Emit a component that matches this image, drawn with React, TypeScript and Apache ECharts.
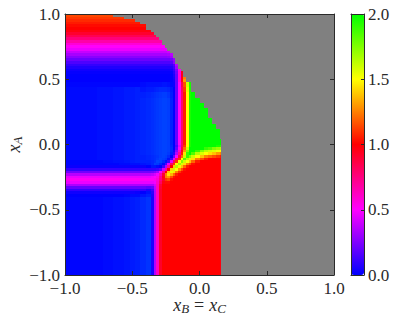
import React, { useEffect, useRef } from "react";
import * as echarts from "echarts";

const barTicks = ["0.0", "0.5", "1.0", "1.5", "2.0"];
const fieldColors = ["#00ffff", "#0000ff", "#ff00ff", "#ff0000", "#ffff00", "#00ff00"];
const barColors = ["#0000ff", "#ff00ff", "#ff0000", "#ffff00", "#00ff00"];

const xEdges = [-1, -0.96, -0.92, -0.88, -0.84, -0.8, -0.76, -0.72, -0.68, -0.64, -0.6, -0.56, -0.52, -0.48, -0.44, -0.4, -0.36, -0.34, -0.32, -0.3, -0.28, -0.26, -0.24, -0.22, -0.2, -0.18, -0.16, -0.14, -0.12, -0.1, -0.08, -0.06, -0.03, 0, 0.03, 0.06, 0.09, 0.12, 0.15, 0.162];
const yEdges = [1, 0.98, 0.96, 0.94, 0.92, 0.9, 0.88, 0.86, 0.84, 0.82, 0.8, 0.78, 0.76, 0.74, 0.72, 0.7, 0.68, 0.66, 0.64, 0.62, 0.6, 0.58, 0.56, 0.54, 0.52, 0.5, 0.48, 0.44, 0.4, 0.36, 0.32, 0.28, 0.24, 0.2, 0.16, 0.12, 0.08, 0.04, 0, -0.02, -0.04, -0.06, -0.08, -0.1, -0.12, -0.14, -0.16, -0.18, -0.2, -0.22, -0.24, -0.26, -0.28, -0.3, -0.32, -0.34, -0.36, -0.38, -0.4, -0.5, -0.6, -0.7, -0.8, -0.9, -1];

const uL = [-0.02, -0.02, -0.02, -0.02, -0.02, -0.02, -0.03, -0.03, -0.03, -0.04, -0.04, -0.05, -0.05, -0.06];
const mid = [-0.07, -0.08, -0.09, -0.1, -0.11, -0.12, -0.13, -0.13, -0.12, -0.06, 0, 0.2, 0.5, 0.78, 1.05, 1.5, 1.95];
const lowL = [-0.01, -0.01, -0.01, -0.01, -0.01, -0.01, -0.01, -0.02, -0.02, -0.03, -0.03, -0.04, -0.05, -0.06];
const lowMid = [-0.08, -0.1, 0.05, 0.35, 0.62, 0.92, 1];
const red10 = [1, 1, 1, 1, 1, 1, 1, 1, 1, 1];
const redR = [1, 1, 1, 1, 1, 1, 1, 0.97];

const rows: number[][] = [
  [1.14, 1.14, 1.14, 1.14, 1.14, 1.14, 1.14, 1.14, 1.14],
  [1.11, 1.11, 1.11, 1.11, 1.11, 1.11, 1.11, 1.11, 1.11, 1.11, 1.11],
  [1.08, 1.08, 1.08, 1.08, 1.08, 1.08, 1.08, 1.08, 1.08, 1.08, 1.08, 1.08, 1.08],
  [1.05, 1.05, 1.05, 1.05, 1.05, 1.05, 1.05, 1.05, 1.05, 1.05, 1.05, 1.05, 1.05, 1.05],
  [1.02, 1.02, 1.02, 1.02, 1.02, 1.02, 1.02, 1.02, 1.02, 1.02, 1.02, 1.02, 1.02, 1.02, 1.02],
  [1, 1, 1, 1, 1, 1, 1, 1, 1, 1, 1, 1, 1, 1, 1],
  [0.97, 0.97, 0.97, 0.97, 0.97, 0.97, 0.97, 0.97, 0.97, 0.97, 0.97, 0.97, 0.97, 0.97, 0.97, 0.97],
  [0.91, 0.91, 0.91, 0.91, 0.91, 0.91, 0.91, 0.91, 0.91, 0.91, 0.91, 0.91, 0.91, 0.91, 0.91, 0.91, 0.91],
  [0.84, 0.84, 0.84, 0.84, 0.84, 0.84, 0.84, 0.84, 0.84, 0.84, 0.84, 0.84, 0.84, 0.84, 0.84, 0.84, 0.84, 0.84],
  [0.76, 0.76, 0.76, 0.76, 0.76, 0.76, 0.76, 0.76, 0.76, 0.76, 0.76, 0.76, 0.76, 0.76, 0.76, 0.76, 0.76, 0.76, 0.76],
  [0.67, 0.67, 0.67, 0.67, 0.67, 0.67, 0.67, 0.67, 0.67, 0.67, 0.67, 0.67, 0.67, 0.67, 0.67, 0.67, 0.67, 0.67, 0.67, 0.67],
  [0.58, 0.58, 0.58, 0.58, 0.58, 0.58, 0.58, 0.58, 0.58, 0.58, 0.58, 0.58, 0.58, 0.58, 0.58, 0.58, 0.58, 0.58, 0.58, 0.58],
  [0.51, 0.51, 0.51, 0.51, 0.51, 0.51, 0.51, 0.51, 0.51, 0.51, 0.51, 0.51, 0.51, 0.51, 0.51, 0.51, 0.51, 0.51, 0.51, 0.51, 0.51],
  [0.46, 0.46, 0.46, 0.46, 0.46, 0.46, 0.46, 0.46, 0.46, 0.46, 0.46, 0.46, 0.46, 0.46, 0.46, 0.46, 0.46, 0.46, 0.46, 0.46, 0.46, 0.46],
  [0.39, 0.39, 0.39, 0.39, 0.39, 0.39, 0.39, 0.39, 0.39, 0.39, 0.39, 0.39, 0.39, 0.39, 0.39, 0.39, 0.39, 0.39, 0.39, 0.39, 0.39, 0.39, 0.41],
  [0.33, 0.33, 0.33, 0.33, 0.33, 0.33, 0.33, 0.33, 0.33, 0.33, 0.33, 0.33, 0.33, 0.33, 0.33, 0.33, 0.33, 0.33, 0.33, 0.33, 0.33, 0.33, 0.34, 0.37],
  [0.27, 0.27, 0.27, 0.27, 0.27, 0.27, 0.27, 0.27, 0.27, 0.27, 0.27, 0.27, 0.27, 0.27, 0.27, 0.27, 0.27, 0.27, 0.27, 0.27, 0.27, 0.27, 0.28, 0.32],
  [0.21, 0.21, 0.21, 0.21, 0.21, 0.21, 0.21, 0.21, 0.21, 0.21, 0.21, 0.21, 0.21, 0.21, 0.21, 0.21, 0.21, 0.21, 0.21, 0.21, 0.21, 0.21, 0.21, 0.23, 0.3],
  [0.15, 0.15, 0.15, 0.15, 0.15, 0.15, 0.15, 0.15, 0.15, 0.15, 0.15, 0.15, 0.15, 0.15, 0.15, 0.15, 0.15, 0.15, 0.15, 0.15, 0.15, 0.15, 0.15, 0.17, 0.28],
  [0.1, 0.1, 0.1, 0.1, 0.1, 0.1, 0.1, 0.1, 0.1, 0.1, 0.1, 0.1, 0.1, 0.1, 0.1, 0.1, 0.1, 0.1, 0.1, 0.1, 0.1, 0.1, 0.1, 0.11, 0.16, 0.38],
  [0.06, 0.06, 0.06, 0.06, 0.06, 0.06, 0.06, 0.06, 0.06, 0.06, 0.06, 0.06, 0.06, 0.06, 0.06, 0.06, 0.06, 0.06, 0.06, 0.06, 0.06, 0.06, 0.06, 0.07, 0.13, 0.33],
  [0.03, 0.03, 0.03, 0.03, 0.03, 0.03, 0.03, 0.03, 0.03, 0.03, 0.03, 0.03, 0.03, 0.03, 0.03, 0.03, 0.03, 0.03, 0.03, 0.03, 0.03, 0.03, 0.03, 0.04, 0.1, 0.25, 0.52],
  [0.01, 0.01, 0.01, 0.01, 0.01, 0.01, 0.01, 0.01, 0.01, 0.01, 0.01, 0.01, 0.01, 0.01, 0.01, 0.01, 0.01, 0.01, 0.01, 0.01, 0.01, 0.01, 0.01, 0.01, 0.07, 0.22, 0.55, 0.95],
  [0, 0, 0, 0, 0, 0, 0, 0, 0, 0, 0, 0, 0, 0, 0, 0, 0, 0, 0, 0, 0, 0, 0, 0, 0.05, 0.2, 0.55, 0.95],
  [0, 0, 0, 0, 0, 0, 0, 0, 0, 0, 0, 0, 0, 0, 0, 0, 0, 0, 0, 0, 0, 0, 0, 0, 0.04, 0.2, 0.55, 0.95, 1.25],
  [0, 0, 0, 0, 0, 0, 0, 0, 0, 0, 0, 0, 0, 0, 0, 0, 0, 0, 0, 0, 0, 0, 0, 0, 0.03, 0.2, 0.55, 0.95, 1.3],
  [-0.01, -0.01, -0.01, -0.01, -0.01, -0.01, -0.01, -0.01, -0.01, -0.01, -0.01, -0.01, -0.01, -0.01, -0.02, -0.03, -0.03, -0.03, -0.03, -0.03, -0.04, -0.04, -0.03, -0.01, 0.02, 0.2, 0.5, 0.85, 1.15, 1.6, 1.95],
  [...uL, -0.04, -0.05, -0.05, -0.06, -0.07, -0.08, -0.08, -0.08, -0.07, -0.04, 0, 0.2, 0.5, 0.8, 1.1, 1.55, 1.95],
  [...uL, -0.06, -0.07, -0.08, -0.09, -0.1, -0.11, -0.12, -0.12, -0.1, -0.05, 0, 0.2, 0.5, 0.78, 1.05, 1.5, 1.95, 2],
  [...uL, ...mid, 2, 2],
  [...uL, ...mid, 2, 2, 2],
  [...uL, ...mid, 2, 2, 2, 2],
  [...uL, ...mid, 2, 2, 2, 2],
  [...uL, ...mid, 2, 2, 2, 2, 2],
  [...uL, ...mid, 2, 2, 2, 2, 2, 2],
  [...uL, ...mid, 2, 2, 2, 2, 2, 2, 2],
  [...uL, ...mid, 2, 2, 2, 2, 2, 2, 2],
  [...uL, ...mid, 2, 2, 2, 2, 2, 2, 2, 2],
  [...uL, -0.07, -0.08, -0.09, -0.1, -0.11, -0.12, -0.13, -0.13, -0.12, -0.07, 0, 0.15, 0.45, 0.8, 1.1, 1.5, 1.95, 2, 2, 2, 2, 2, 2, 1.95, 1.9],
  [...uL, -0.07, -0.08, -0.09, -0.1, -0.11, -0.12, -0.13, -0.13, -0.12, -0.08, 0, 0.2, 0.5, 0.85, 1.2, 1.6, 2, 2, 2, 2, 1.9, 1.85, 1.75, 1.7, 1.65],
  [...uL, -0.07, -0.08, -0.09, -0.1, -0.11, -0.12, -0.13, -0.13, -0.12, -0.07, 0.03, 0.27, 0.6, 0.95, 1.3, 1.75, 2, 2, 1.9, 1.75, 1.65, 1.6, 1.57, 1.53, 1.5],
  [...uL, -0.07, -0.08, -0.09, -0.1, -0.11, -0.12, -0.13, -0.13, -0.11, -0.05, 0.07, 0.35, 0.7, 1.05, 1.45, 1.9, 2, 1.85, 1.65, 1.57, 1.5, 1.44, 1.38, 1.3, 1.25],
  [...uL, -0.06, -0.07, -0.08, -0.09, -0.1, -0.12, -0.13, -0.12, -0.08, 0, 0.2, 0.5, 0.85, 1.2, 1.6, 1.9, 1.75, 1.6, 1.5, 1.38, 1.25, 1.2, 1.15, 1.1, 1.05],
  [...uL, -0.06, -0.07, -0.08, -0.09, -0.11, -0.13, -0.12, -0.1, -0.03, 0.12, 0.45, 0.8, 1.1, 1.5, 1.85, 1.65, 1.57, 1.44, 1.25, 1.15, 1.05, 1, 1, 1, 0.98],
  [...lowL, -0.06, -0.06, -0.07, -0.09, -0.13, -0.12, -0.08, -0.03, 0.12, 0.45, 0.8, 1.1, 1.5, 1.75, 1.6, 1.5, 1.38, 1.2, 1.05, 1, 1, 1, 1, 1, 0.98],
  [-0.01, -0.01, -0.01, -0.01, -0.01, -0.01, -0.01, -0.01, -0.01, -0.01, -0.02, -0.02, -0.03, -0.03, -0.04, -0.05, -0.07, -0.12, -0.11, -0.07, -0.02, 0.15, 0.45, 0.8, 1.1, 1.5, 1.7, 1.57, 1.44, 1.25, 1.15, 1.03, 1, 1, 1, 1, 1, 1, 0.97],
  [0.02, 0.02, 0.02, 0.02, 0.02, 0.02, 0.02, 0.02, 0.02, 0.02, 0.02, 0.02, 0.02, 0.02, 0.02, 0, -0.04, -0.04, -0.02, 0, 0.12, 0.35, 0.7, 1, 1.4, 1.65, 1.53, 1.38, 1.2, 1.05, 1, ...redR],
  [0.1, 0.1, 0.1, 0.1, 0.1, 0.1, 0.1, 0.1, 0.1, 0.1, 0.1, 0.1, 0.1, 0.1, 0.1, 0.1, 0.1, 0.1, 0.12, 0.17, 0.4, 0.7, 1, 1.42, 1.6, 1.5, 1.3, 1.15, 1.03, 1, 1, ...redR],
  [0.22, 0.22, 0.22, 0.22, 0.22, 0.22, 0.22, 0.22, 0.22, 0.22, 0.22, 0.22, 0.22, 0.22, 0.22, 0.22, 0.23, 0.26, 0.32, 0.5, 0.72, 1, 1.4, 1.55, 1.44, 1.25, 1.1, 1.02, 1, 1, 1, ...redR],
  [0.36, 0.36, 0.36, 0.36, 0.36, 0.36, 0.36, 0.36, 0.36, 0.36, 0.36, 0.36, 0.36, 0.36, 0.36, 0.36, 0.38, 0.42, 0.48, 0.65, 0.9, 1.25, 1.45, 1.35, 1.2, 1.05, 1, 1, 1, 1, 1, ...redR],
  [0.46, 0.46, 0.46, 0.46, 0.46, 0.46, 0.46, 0.46, 0.46, 0.46, 0.46, 0.46, 0.46, 0.46, 0.46, 0.46, 0.48, 0.5, 0.55, 0.72, 0.95, 1.25, 1.3, 1.15, 1.03, 1, 1, 1, 1, 1, 1, ...redR],
  [0.52, 0.52, 0.52, 0.52, 0.52, 0.52, 0.52, 0.52, 0.52, 0.52, 0.52, 0.52, 0.52, 0.52, 0.52, 0.52, 0.52, 0.53, 0.58, 0.75, 0.92, 1.1, 1.15, 1.03, 1, 1, 1, 1, 1, 1, 1, ...redR],
  [0.46, 0.46, 0.46, 0.46, 0.46, 0.46, 0.46, 0.46, 0.46, 0.46, 0.46, 0.46, 0.46, 0.46, 0.46, 0.46, 0.46, 0.48, 0.6, 0.8, 0.97, 1.02, 1.02, 1, 1, 1, 1, 1, 1, 1, 1, ...redR],
  [0.34, 0.34, 0.34, 0.34, 0.34, 0.34, 0.34, 0.34, 0.34, 0.34, 0.34, 0.34, 0.34, 0.34, 0.34, 0.34, 0.34, 0.42, 0.62, 0.88, 1, ...red10, ...redR],
  [0.2, 0.2, 0.2, 0.2, 0.2, 0.2, 0.2, 0.2, 0.2, 0.2, 0.2, 0.2, 0.2, 0.2, 0.2, 0.18, 0.2, 0.38, 0.62, 0.9, 1, ...red10, ...redR],
  [0.1, 0.1, 0.1, 0.1, 0.1, 0.1, 0.1, 0.1, 0.1, 0.1, 0.1, 0.1, 0.1, 0.1, 0.1, 0.06, 0.12, 0.36, 0.62, 0.92, 1, ...red10, ...redR],
  [0.03, 0.03, 0.03, 0.03, 0.03, 0.03, 0.03, 0.03, 0.03, 0.03, 0.03, 0.03, 0.03, 0.02, 0, -0.03, 0.08, 0.35, 0.62, 0.92, 1, ...red10, ...redR],
  [0, 0, 0, 0, 0, 0, 0, 0, 0, 0, 0, -0.01, -0.02, -0.02, -0.04, -0.06, 0.06, 0.35, 0.62, 0.92, 1, ...red10, ...redR],
  [...lowL, ...lowMid, ...red10, ...redR],
  [...lowL, ...lowMid, ...red10, ...redR],
  [...lowL, ...lowMid, ...red10, ...redR],
  [...lowL, ...lowMid, ...red10, ...redR],
  [...lowL, ...lowMid, ...red10, ...redR],
  [...lowL, ...lowMid, ...red10, ...redR],
];

const FONT = "Liberation Serif";
const INK = "#2a2a2a";

const minus = (v: number) => v.toFixed(1).replace("-", "\u2212");

function frameAxis(extra: any) {
  return {
    type: "value",
    z: 10,
    axisLine: { show: true, onZero: false, lineStyle: { color: INK, width: 1 } },
    axisTick: { show: true, inside: true, length: 4, lineStyle: { color: INK, width: 1 } },
    axisLabel: { show: false },
    splitLine: { show: false },
    ...extra,
  };
}

const labels = {
  show: true, color: INK, fontFamily: FONT, fontSize: 17, formatter: minus,
  showMinLabel: true, showMaxLabel: true, hideOverlap: false,
};
const nameRich = {
  v: { fontFamily: FONT, fontStyle: "italic", fontSize: 18, color: INK },
  s: { fontFamily: FONT, fontStyle: "italic", fontSize: 13, color: INK, padding: [7, 0, 0, 0] },
  e: { fontFamily: FONT, fontSize: 18, color: INK, padding: [0, 5, 0, 5] },
};

export default function App() {
  const ref = useRef<HTMLDivElement>(null);
  useEffect(() => {
    const chart = echarts.init(ref.current!, null, { renderer: "svg" });
    const cells: number[][] = [];
    rows.forEach((row, r) =>
      row.forEach((v, c) => cells.push([xEdges[c], xEdges[c + 1], yEdges[r], yEdges[r + 1], v]))
    );
    chart.setOption({
      animation: false,
      backgroundColor: "#ffffff",
      grid: [
        { left: 65, top: 14, width: 269, height: 261, show: true, backgroundColor: "#808080", borderWidth: 0, outerBoundsMode: "none" },
        { left: 351, top: 14, width: 13, height: 261, show: false, outerBoundsMode: "none" },
      ],
      xAxis: [
        frameAxis({
          gridIndex: 0, position: "bottom", min: -1, max: 1, interval: 0.5,
          axisLabel: { ...labels, margin: 6, lineHeight: 14 },
          name: "{v|x}{s|B}{e|=}{v|x}{s|C}", nameLocation: "middle", nameGap: 20, nameMoveOverlap: false,
          nameTextStyle: { rich: nameRich },
        }),
        frameAxis({ gridIndex: 0, position: "top", min: -1, max: 1, interval: 0.5 }),
        frameAxis({ gridIndex: 1, position: "bottom", min: 0, max: 1, axisTick: { show: false } }),
        frameAxis({ gridIndex: 1, position: "top", min: 0, max: 1, axisTick: { show: false } }),
      ],
      yAxis: [
        frameAxis({
          gridIndex: 0, position: "left", min: -1, max: 1, interval: 0.5,
          axisLabel: { ...labels, margin: 5 },
          name: "{v|x}{s|A}", nameLocation: "middle", nameGap: 41, nameRotate: 90, nameMoveOverlap: false,
          nameTextStyle: { rich: nameRich },
        }),
        frameAxis({ gridIndex: 0, position: "right", min: -1, max: 1, interval: 0.5 }),
        frameAxis({
          gridIndex: 1, position: "right", min: 0, max: 2, interval: 0.5,
          axisTick: { show: true, inside: true, length: 3, lineStyle: { color: INK } },
          axisLabel: {
            show: true, color: INK, fontFamily: FONT, fontSize: 17, margin: 4,
            formatter: (v: number) => barTicks[Math.round(v * 2)],
          },
        }),
        frameAxis({ gridIndex: 1, position: "left", min: 0, max: 2, axisTick: { show: false } }),
      ],
      visualMap: [
        {
          type: "continuous", show: false, min: -0.5, max: 2, dimension: 4, seriesIndex: 0,
          inRange: { color: fieldColors },
        },
        {
          type: "continuous", show: true, min: 0, max: 2, dimension: 1, seriesIndex: 1,
          left: 351, top: 14, itemWidth: 13, itemHeight: 261, padding: 0,
          calculable: false, hoverLink: false, showLabel: false, text: null,
          inRange: { color: barColors },
        },
      ],
      series: [
        {
          type: "custom", xAxisIndex: 0, yAxisIndex: 0, clip: true, silent: true,
          encode: { x: [0, 1], y: [2, 3] },
          data: cells,
          renderItem: (_p: any, api: any) => {
            const a = api.coord([api.value(0), api.value(2)]);
            const b = api.coord([api.value(1), api.value(3)]);
            const x = Math.round(a[0]);
            const y = Math.round(a[1]);
            return {
              type: "rect",
              shape: { x, y, width: Math.round(b[0]) - x, height: Math.round(b[1]) - y },
              style: { fill: api.visual("color") },
            };
          },
        },
        { type: "custom", xAxisIndex: 2, yAxisIndex: 2, silent: true, data: [], renderItem: () => null },
      ],
    });
    return () => chart.dispose();
  }, []);
  return <div ref={ref} style={{ position: "fixed", left: 0, top: 0, width: 394, height: 321 }} />;
}
